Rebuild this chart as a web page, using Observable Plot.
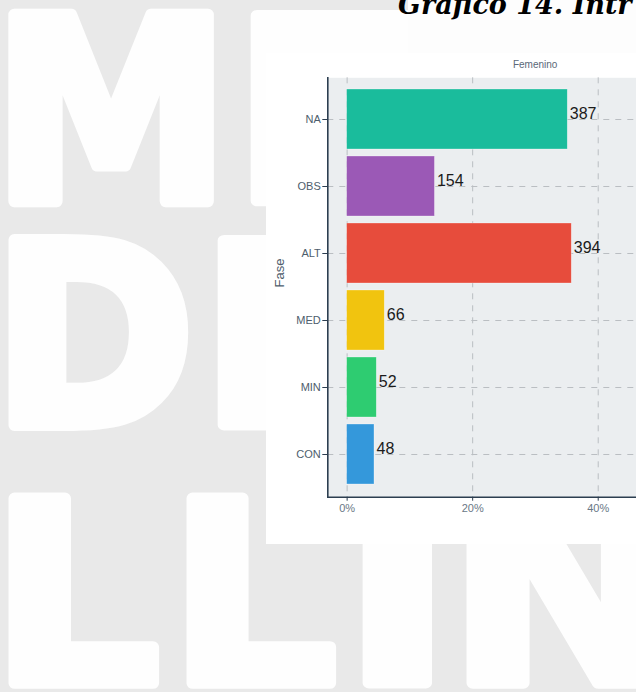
<!DOCTYPE html>
<html>
<head>
<meta charset="utf-8">
<script src="https://cdn.jsdelivr.net/npm/d3@7"></script>
<script src="https://cdn.jsdelivr.net/npm/@observablehq/plot@0.6"></script>
<style>
  html, body { margin: 0; padding: 0; }
  body { width: 636px; height: 692px; overflow: hidden; background: #e9e9e9; position: relative; }
  #wm { position: absolute; left: 0; top: 0; }
  #titlebox { position: absolute; left: 408px; top: 0; width: 228px; height: 55px; background: #fdfdfd; }
  #chartbox { position: absolute; left: 266px; top: 53px; width: 370px; height: 491px; background: #ffffff; overflow: hidden; }
  #titlesvg { position: absolute; left: 0; top: 0; }
</style>
</head>
<body>
<svg id="wm" width="636" height="692"></svg>
<div id="titlebox"></div>
<div id="chartbox"></div>
<svg id="titlesvg" width="636" height="40"></svg>
<script>
// ---------- data ----------
const fases   = ["NA", "OBS", "ALT", "MED", "MIN", "CON"];
const conteos = [387, 154, 394, 66, 52, 48];
const colores = ["#1ABC9C", "#9B59B6", "#E74C3C", "#F1C40F", "#2ECC71", "#3498DB"];
const xTicks  = [0, 0.2, 0.4];
const panelLabel = "Femenino";
const yLabel  = "Fase";
const titulo  = "Gráfico 14. Intr";

// ---------- watermark (decorative background logo, real font glyphs shown through a mask) ----------
const wmLayout = [
  // char, left, right, top, bottom
  ["M", 5, 215, 8, 207], ["E", 247, 430, 8, 207],
  ["D", 5, 189, 233, 431], ["E", 214, 395, 233, 431],
  ["L", 5, 163, 491, 689], ["L", 183, 340, 491, 689], ["I", 359, 432, 491, 689], ["N", 463, 665, 491, 689]
];
(function drawWatermark() {
  const fs = 272, sw = 12;
  const ctx = document.createElement("canvas").getContext("2d");
  ctx.font = `bold ${fs}px "DejaVu Sans"`;
  const svg = d3.select("#wm");
  const mask = svg.append("defs").append("mask").attr("id", "wmMask")
    .attr("maskUnits", "userSpaceOnUse").attr("x", 0).attr("y", 0).attr("width", 636).attr("height", 692);
  mask.append("rect").attr("width", 636).attr("height", 692).attr("fill", "black");
  wmLayout.forEach(([ch, l, r, t, b]) => {
    const m = ctx.measureText(ch);
    const inkL = -m.actualBoundingBoxLeft, inkR = m.actualBoundingBoxRight, inkT = m.actualBoundingBoxAscent;
    const sx = (r - l - sw) / (inkR - inkL);
    const sy = (b - t - sw) / inkT;
    mask.append("text")
      .attr("transform", `translate(${l + sw / 2 - inkL * sx},${b - sw / 2}) scale(${sx},${sy})`)
      .attr("font-family", "DejaVu Sans").attr("font-weight", "bold").attr("font-size", fs)
      .attr("fill", "white").attr("stroke", "white").attr("stroke-width", sw)
      .attr("stroke-linejoin", "round").attr("vector-effect", "non-scaling-stroke")
      .text(ch);
  });
  svg.append("rect").attr("width", 636).attr("height", 692).attr("fill", "#fefefe").attr("mask", "url(#wmMask)");
})();

// ---------- title ----------
d3.select("#titlesvg").append("text")
  .attr("x", 398).attr("y", 13.5)
  .attr("font-family", "DejaVu Serif").attr("font-weight", "bold").attr("font-style", "italic")
  .attr("font-size", 27).attr("fill", "#000")
  .text(titulo);

// ---------- chart ----------
const total = d3.sum(conteos);
const data = fases.map((f, i) => ({ fase: f, n: conteos[i], pct: conteos[i] / total }));
const pct = d3.format(".0%");

const chart = Plot.plot({
  width: 370,
  height: 491,
  marginLeft: 61.3,
  marginRight: 0,
  marginTop: 24.3,
  marginBottom: 47.3,
  style: { background: "transparent", fontFamily: "'Liberation Sans', Arial, sans-serif" },
  x: { domain: [-0.0308, 0.461], label: null },
  y: { domain: fases, paddingInner: 0.1, paddingOuter: 0.15, label: null },
  color: { domain: fases, range: colores },
  marks: [
    Plot.frame({ fill: "#EBEEF0", stroke: null }),
    Plot.gridX(xTicks, { stroke: "#babec2", strokeOpacity: 1, strokeWidth: 1, strokeDasharray: "6,6" }),
    Plot.gridY(fases, { stroke: "#babec2", strokeOpacity: 1, strokeWidth: 1, strokeDasharray: "6,6" }),
    Plot.barX(data, { x: "pct", y: "fase", fill: "fase", stroke: "#ffffff", strokeOpacity: 0.5, strokeWidth: 0.6 }),
    Plot.text(data, { x: "pct", y: "fase", text: d => String(d.n), textAnchor: "start", dx: 2, dy: -5.5, fontSize: 16, fill: "#1b1b1b" }),
    Plot.frame({ anchor: "left", stroke: "#2c3e50", strokeWidth: 1.6 }),
    Plot.frame({ anchor: "bottom", stroke: "#2c3e50", strokeWidth: 1.6 }),
    Plot.axisY({ tickSize: 5, tickPadding: 2, fontSize: 11, stroke: "#2c3e50", fill: "#4e5d6c", label: null }),
    Plot.axisX({ ticks: xTicks, tickFormat: pct, tickSize: 4, tickPadding: 3, fontSize: 11, stroke: "#2c3e50", fill: "#6a7886", label: null }),
    Plot.text([yLabel], { frameAnchor: "left", rotate: -90, dx: -47.6, fontSize: 13, fill: "#4e5d6c" }),
    Plot.text([panelLabel], { frameAnchor: "top", lineAnchor: "middle", dx: 53, dy: -12.6, fontSize: 10, fill: "#5b6877" })
  ]
});
document.getElementById("chartbox").appendChild(chart);
</script>
</body>
</html>
